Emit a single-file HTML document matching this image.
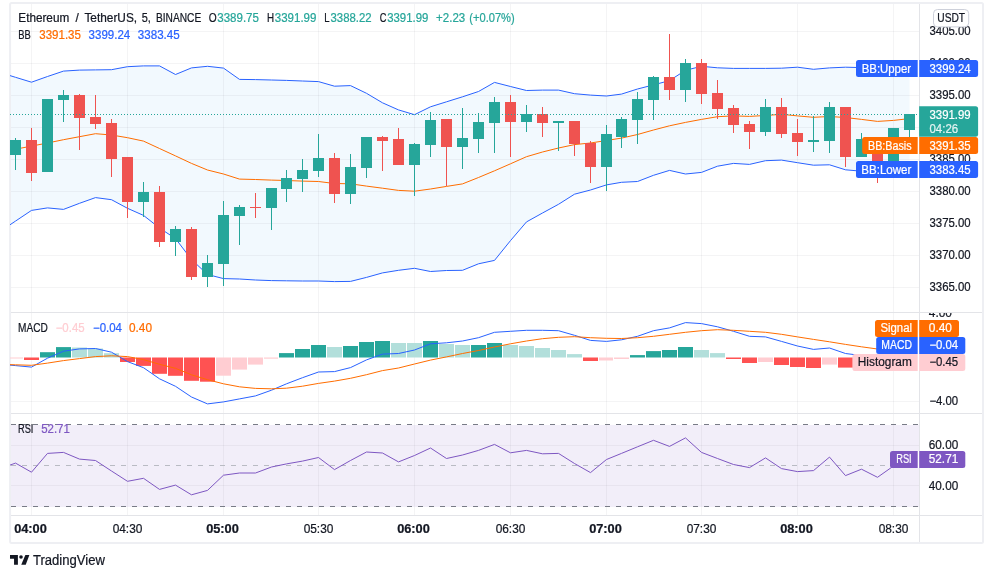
<!DOCTYPE html>
<html lang="en"><head><meta charset="utf-8"><title>ETHUSDT chart</title>
<style>html,body{margin:0;padding:0;background:#fff;width:993px;height:575px;overflow:hidden}svg{display:block;position:absolute;left:0;top:0}svg{will-change:transform}text{font-family:"Liberation Sans",sans-serif;white-space:pre;stroke-width:0.22px;stroke-linejoin:round}</style></head>
<body>
<svg width="993" height="575" viewBox="0 0 993 575" font-family="Liberation Sans, sans-serif" font-size="12" fill="#131722">
<defs><clipPath id="cp"><rect x="10" y="4" width="909" height="308"/></clipPath><clipPath id="cm"><rect x="10" y="313" width="909" height="100"/></clipPath><clipPath id="cr"><rect x="10" y="414" width="909" height="101"/></clipPath><clipPath id="cf"><rect x="11" y="4" width="908" height="308"/></clipPath><clipPath id="ca"><rect x="920" y="313" width="62" height="100"/></clipPath></defs>
<rect width="993" height="575" fill="#fff"/>
<rect x="10.1" y="3" width="972.9" height="540" rx="1.5" fill="none" stroke="#eeeff3" stroke-width="2"/>
<g clip-path="url(#cf)"><path d="M-0.5,72.4L15.5,77.3L31.5,82.2L47.5,76.5L63.5,71.1L79.5,70.1L95.5,69.9L111.5,69.7L127.5,66.7L143.5,65.9L159.5,65.9L175.5,74.5L191.5,67.9L207.5,66.3L223.5,68.1L239.5,79.4L255.5,79.6L271.5,80.0L286.5,80.4L302.5,81.0L318.5,81.6L334.5,86.2L350.5,85.6L366.5,93.3L382.5,102.8L398.5,109.9L414.5,114.7L430.5,106.8L446.5,101.8L462.5,96.8L478.5,91.5L494.5,82.4L510.5,86.5L526.5,90.5L542.5,90.1L558.5,90.1L574.5,93.7L590.5,95.1L606.5,96.0L621.5,94.1L637.5,89.0L653.5,84.9L669.5,80.6L685.5,70.3L701.5,66.3L717.5,67.8L733.5,68.4L749.5,68.4L765.5,68.4L781.5,68.2L797.5,67.2L813.5,69.3L829.5,67.9L845.5,67.2L861.5,67.6L877.5,67.8L893.5,68.0L909.5,68.1L909.5,169.1L893.5,170.3L877.5,171.5L861.5,171.2L845.5,169.8L829.5,164.8L813.5,165.2L797.5,162.7L781.5,160.1L765.5,160.7L749.5,164.4L733.5,163.4L717.5,166.2L701.5,172.4L685.5,174.0L669.5,170.4L653.5,175.3L637.5,181.5L621.5,182.3L606.5,184.9L590.5,190.0L574.5,194.2L558.5,204.3L542.5,213.0L526.5,221.9L510.5,240.6L494.5,260.4L478.5,263.8L462.5,270.3L446.5,270.5L430.5,271.5L414.5,268.3L398.5,270.3L382.5,272.9L366.5,277.4L350.5,281.4L334.5,281.6L318.5,281.0L302.5,281.0L286.5,280.8L271.5,280.6L255.5,280.0L239.5,279.0L223.5,278.6L207.5,274.5L191.5,259.5L175.5,238.6L159.5,228.0L143.5,215.4L127.5,208.3L111.5,199.7L95.5,197.6L79.5,203.3L63.5,209.4L47.5,207.9L31.5,210.4L15.5,221.1L-0.5,231.8Z" fill="#f2f9fe"/></g>
<rect x="11" y="425" width="908" height="82" fill="#f2eef9"/>
<g fill="#6a6d78" fill-opacity="0.075" shape-rendering="crispEdges"><rect x="31" y="4" width="1" height="512"/><rect x="127" y="4" width="1" height="512"/><rect x="223" y="4" width="1" height="512"/><rect x="318" y="4" width="1" height="512"/><rect x="414" y="4" width="1" height="512"/><rect x="510" y="4" width="1" height="512"/><rect x="606" y="4" width="1" height="512"/><rect x="701" y="4" width="1" height="512"/><rect x="797" y="4" width="1" height="512"/><rect x="893" y="4" width="1" height="512"/><rect x="11" y="31" width="908" height="1"/><rect x="11" y="63" width="908" height="1"/><rect x="11" y="95" width="908" height="1"/><rect x="11" y="127" width="908" height="1"/><rect x="11" y="159" width="908" height="1"/><rect x="11" y="191" width="908" height="1"/><rect x="11" y="223" width="908" height="1"/><rect x="11" y="255" width="908" height="1"/><rect x="11" y="287" width="908" height="1"/><rect x="11" y="401" width="908" height="1"/><rect x="11" y="445" width="908" height="1"/><rect x="11" y="485" width="908" height="1"/></g>
<g clip-path="url(#cp)" fill="none" stroke-width="1" stroke-linejoin="round">
<path d="M-0.5,152.3L15.5,149.2L31.5,146.1L47.5,143.0L63.5,139.7L79.5,136.7L95.5,133.7L111.5,135.0L127.5,137.7L143.5,141.1L159.5,148.5L175.5,155.9L191.5,163.4L207.5,170.0L223.5,174.0L239.5,179.1L255.5,179.5L271.5,180.1L286.5,180.5L302.5,181.1L318.5,181.5L334.5,183.5L350.5,183.8L366.5,186.1L382.5,188.2L398.5,190.4L414.5,191.2L430.5,189.0L446.5,186.4L462.5,183.9L478.5,177.5L494.5,170.8L510.5,163.8L526.5,156.7L542.5,152.0L558.5,148.0L574.5,144.6L590.5,143.0L606.5,140.5L621.5,138.1L637.5,134.5L653.5,130.0L669.5,125.8L685.5,122.4L701.5,119.4L717.5,116.7L733.5,115.9L749.5,116.4L765.5,115.5L781.5,114.3L797.5,115.9L813.5,117.3L829.5,116.5L845.5,117.5L861.5,119.4L877.5,121.4L893.5,120.4L909.5,118.6" stroke="#ff6d00"/>
<path d="M-0.5,72.4L15.5,77.3L31.5,82.2L47.5,76.5L63.5,71.1L79.5,70.1L95.5,69.9L111.5,69.7L127.5,66.7L143.5,65.9L159.5,65.9L175.5,74.5L191.5,67.9L207.5,66.3L223.5,68.1L239.5,79.4L255.5,79.6L271.5,80.0L286.5,80.4L302.5,81.0L318.5,81.6L334.5,86.2L350.5,85.6L366.5,93.3L382.5,102.8L398.5,109.9L414.5,114.7L430.5,106.8L446.5,101.8L462.5,96.8L478.5,91.5L494.5,82.4L510.5,86.5L526.5,90.5L542.5,90.1L558.5,90.1L574.5,93.7L590.5,95.1L606.5,96.0L621.5,94.1L637.5,89.0L653.5,84.9L669.5,80.6L685.5,70.3L701.5,66.3L717.5,67.8L733.5,68.4L749.5,68.4L765.5,68.4L781.5,68.2L797.5,67.2L813.5,69.3L829.5,67.9L845.5,67.2L861.5,67.6L877.5,67.8L893.5,68.0L909.5,68.1" stroke="#2962ff"/>
<path d="M-0.5,231.8L15.5,221.1L31.5,210.4L47.5,207.9L63.5,209.4L79.5,203.3L95.5,197.6L111.5,199.7L127.5,208.3L143.5,215.4L159.5,228.0L175.5,238.6L191.5,259.5L207.5,274.5L223.5,278.6L239.5,279.0L255.5,280.0L271.5,280.6L286.5,280.8L302.5,281.0L318.5,281.0L334.5,281.6L350.5,281.4L366.5,277.4L382.5,272.9L398.5,270.3L414.5,268.3L430.5,271.5L446.5,270.5L462.5,270.3L478.5,263.8L494.5,260.4L510.5,240.6L526.5,221.9L542.5,213.0L558.5,204.3L574.5,194.2L590.5,190.0L606.5,184.9L621.5,182.3L637.5,181.5L653.5,175.3L669.5,170.4L685.5,174.0L701.5,172.4L717.5,166.2L733.5,163.4L749.5,164.4L765.5,160.7L781.5,160.1L797.5,162.7L813.5,165.2L829.5,164.8L845.5,169.8L861.5,171.2L877.5,171.5L893.5,170.3L909.5,169.1" stroke="#2962ff"/>
</g>
<g clip-path="url(#cp)" shape-rendering="crispEdges"><g fill="#26a69a"><rect x="15" y="138" width="1" height="32"/><rect x="10" y="140" width="11" height="15"/></g><g fill="#ef5350"><rect x="31" y="128" width="1" height="53"/><rect x="26" y="140" width="11" height="33"/></g><g fill="#26a69a"><rect x="47" y="99" width="1" height="73"/><rect x="42" y="99" width="11" height="73"/></g><g fill="#26a69a"><rect x="63" y="90" width="1" height="32"/><rect x="58" y="95" width="11" height="5"/></g><g fill="#ef5350"><rect x="79" y="94" width="1" height="56"/><rect x="74" y="95" width="11" height="23"/></g><g fill="#ef5350"><rect x="95" y="95" width="1" height="34"/><rect x="90" y="117" width="11" height="7"/></g><g fill="#ef5350"><rect x="111" y="119" width="1" height="58"/><rect x="106" y="123" width="11" height="36"/></g><g fill="#ef5350"><rect x="127" y="157" width="1" height="61"/><rect x="122" y="157" width="11" height="45"/></g><g fill="#26a69a"><rect x="143" y="182" width="1" height="35"/><rect x="138" y="192" width="11" height="10"/></g><g fill="#ef5350"><rect x="159" y="186" width="1" height="61"/><rect x="154" y="192" width="11" height="50"/></g><g fill="#26a69a"><rect x="175" y="226" width="1" height="30"/><rect x="170" y="229" width="11" height="13"/></g><g fill="#ef5350"><rect x="191" y="227" width="1" height="53"/><rect x="186" y="229" width="11" height="48"/></g><g fill="#26a69a"><rect x="207" y="255" width="1" height="32"/><rect x="202" y="263" width="11" height="14"/></g><g fill="#26a69a"><rect x="223" y="201" width="1" height="85"/><rect x="218" y="215" width="11" height="49"/></g><g fill="#26a69a"><rect x="239" y="205" width="1" height="40"/><rect x="234" y="207" width="11" height="9"/></g><g fill="#ef5350"><rect x="255" y="193" width="1" height="25"/><rect x="250" y="207" width="11" height="1"/></g><g fill="#26a69a"><rect x="271" y="188" width="1" height="42"/><rect x="266" y="188" width="11" height="20"/></g><g fill="#26a69a"><rect x="286" y="170" width="1" height="32"/><rect x="281" y="178" width="11" height="11"/></g><g fill="#26a69a"><rect x="302" y="159" width="1" height="33"/><rect x="297" y="170" width="11" height="9"/></g><g fill="#26a69a"><rect x="318" y="134" width="1" height="43"/><rect x="313" y="158" width="11" height="13"/></g><g fill="#ef5350"><rect x="334" y="153" width="1" height="50"/><rect x="329" y="158" width="11" height="36"/></g><g fill="#26a69a"><rect x="350" y="154" width="1" height="50"/><rect x="345" y="167" width="11" height="27"/></g><g fill="#26a69a"><rect x="366" y="137" width="1" height="41"/><rect x="361" y="137" width="11" height="31"/></g><g fill="#ef5350"><rect x="382" y="136" width="1" height="35"/><rect x="377" y="137" width="11" height="4"/></g><g fill="#ef5350"><rect x="398" y="128" width="1" height="37"/><rect x="393" y="139" width="11" height="26"/></g><g fill="#26a69a"><rect x="414" y="143" width="1" height="53"/><rect x="409" y="144" width="11" height="21"/></g><g fill="#26a69a"><rect x="430" y="112" width="1" height="45"/><rect x="425" y="120" width="11" height="25"/></g><g fill="#ef5350"><rect x="446" y="119" width="1" height="67"/><rect x="441" y="119" width="11" height="28"/></g><g fill="#26a69a"><rect x="462" y="108" width="1" height="61"/><rect x="457" y="138" width="11" height="9"/></g><g fill="#26a69a"><rect x="478" y="113" width="1" height="40"/><rect x="473" y="122" width="11" height="17"/></g><g fill="#26a69a"><rect x="494" y="97" width="1" height="56"/><rect x="489" y="102" width="11" height="21"/></g><g fill="#ef5350"><rect x="510" y="95" width="1" height="62"/><rect x="505" y="102" width="11" height="20"/></g><g fill="#26a69a"><rect x="526" y="105" width="1" height="27"/><rect x="521" y="114" width="11" height="8"/></g><g fill="#ef5350"><rect x="542" y="107" width="1" height="30"/><rect x="537" y="114" width="11" height="9"/></g><g fill="#26a69a"><rect x="558" y="121" width="1" height="30"/><rect x="553" y="121" width="11" height="2"/></g><g fill="#ef5350"><rect x="574" y="121" width="1" height="35"/><rect x="569" y="121" width="11" height="23"/></g><g fill="#ef5350"><rect x="590" y="141" width="1" height="42"/><rect x="585" y="143" width="11" height="24"/></g><g fill="#26a69a"><rect x="606" y="125" width="1" height="66"/><rect x="601" y="134" width="11" height="33"/></g><g fill="#26a69a"><rect x="621" y="117" width="1" height="31"/><rect x="616" y="119" width="11" height="18"/></g><g fill="#26a69a"><rect x="637" y="92" width="1" height="52"/><rect x="632" y="99" width="11" height="21"/></g><g fill="#26a69a"><rect x="653" y="76" width="1" height="44"/><rect x="648" y="77" width="11" height="23"/></g><g fill="#ef5350"><rect x="669" y="34" width="1" height="66"/><rect x="664" y="77" width="11" height="13"/></g><g fill="#26a69a"><rect x="685" y="59" width="1" height="43"/><rect x="680" y="63" width="11" height="27"/></g><g fill="#ef5350"><rect x="701" y="59" width="1" height="45"/><rect x="696" y="63" width="11" height="31"/></g><g fill="#ef5350"><rect x="717" y="80" width="1" height="39"/><rect x="712" y="93" width="11" height="16"/></g><g fill="#ef5350"><rect x="733" y="105" width="1" height="28"/><rect x="728" y="108" width="11" height="17"/></g><g fill="#ef5350"><rect x="749" y="121" width="1" height="28"/><rect x="744" y="124" width="11" height="8"/></g><g fill="#26a69a"><rect x="765" y="99" width="1" height="37"/><rect x="760" y="107" width="11" height="25"/></g><g fill="#ef5350"><rect x="781" y="98" width="1" height="40"/><rect x="776" y="107" width="11" height="27"/></g><g fill="#ef5350"><rect x="797" y="119" width="1" height="37"/><rect x="792" y="133" width="11" height="9"/></g><g fill="#26a69a"><rect x="813" y="116" width="1" height="36"/><rect x="808" y="140" width="11" height="2"/></g><g fill="#26a69a"><rect x="829" y="102" width="1" height="51"/><rect x="824" y="107" width="11" height="34"/></g><g fill="#ef5350"><rect x="845" y="107" width="1" height="60"/><rect x="840" y="107" width="11" height="50"/></g><g fill="#26a69a"><rect x="861" y="133" width="1" height="24"/><rect x="856" y="139" width="11" height="18"/></g><g fill="#ef5350"><rect x="877" y="139" width="1" height="44"/><rect x="872" y="139" width="11" height="24"/></g><g fill="#26a69a"><rect x="893" y="128" width="1" height="37"/><rect x="888" y="128" width="11" height="35"/></g><g fill="#26a69a"><rect x="909" y="114" width="1" height="26"/><rect x="904" y="114" width="11" height="16"/></g></g>
<g fill="#26a69a" shape-rendering="crispEdges"><rect x="10" y="114" width="1" height="1"/><rect x="13" y="114" width="1" height="1"/><rect x="16" y="114" width="1" height="1"/><rect x="19" y="114" width="1" height="1"/><rect x="22" y="114" width="1" height="1"/><rect x="25" y="114" width="1" height="1"/><rect x="28" y="114" width="1" height="1"/><rect x="31" y="114" width="1" height="1"/><rect x="34" y="114" width="1" height="1"/><rect x="37" y="114" width="1" height="1"/><rect x="40" y="114" width="1" height="1"/><rect x="43" y="114" width="1" height="1"/><rect x="46" y="114" width="1" height="1"/><rect x="49" y="114" width="1" height="1"/><rect x="52" y="114" width="1" height="1"/><rect x="55" y="114" width="1" height="1"/><rect x="58" y="114" width="1" height="1"/><rect x="61" y="114" width="1" height="1"/><rect x="64" y="114" width="1" height="1"/><rect x="67" y="114" width="1" height="1"/><rect x="70" y="114" width="1" height="1"/><rect x="73" y="114" width="1" height="1"/><rect x="76" y="114" width="1" height="1"/><rect x="79" y="114" width="1" height="1"/><rect x="82" y="114" width="1" height="1"/><rect x="85" y="114" width="1" height="1"/><rect x="88" y="114" width="1" height="1"/><rect x="91" y="114" width="1" height="1"/><rect x="94" y="114" width="1" height="1"/><rect x="97" y="114" width="1" height="1"/><rect x="100" y="114" width="1" height="1"/><rect x="103" y="114" width="1" height="1"/><rect x="106" y="114" width="1" height="1"/><rect x="109" y="114" width="1" height="1"/><rect x="112" y="114" width="1" height="1"/><rect x="115" y="114" width="1" height="1"/><rect x="118" y="114" width="1" height="1"/><rect x="121" y="114" width="1" height="1"/><rect x="124" y="114" width="1" height="1"/><rect x="127" y="114" width="1" height="1"/><rect x="130" y="114" width="1" height="1"/><rect x="133" y="114" width="1" height="1"/><rect x="136" y="114" width="1" height="1"/><rect x="139" y="114" width="1" height="1"/><rect x="142" y="114" width="1" height="1"/><rect x="145" y="114" width="1" height="1"/><rect x="148" y="114" width="1" height="1"/><rect x="151" y="114" width="1" height="1"/><rect x="154" y="114" width="1" height="1"/><rect x="157" y="114" width="1" height="1"/><rect x="160" y="114" width="1" height="1"/><rect x="163" y="114" width="1" height="1"/><rect x="166" y="114" width="1" height="1"/><rect x="169" y="114" width="1" height="1"/><rect x="172" y="114" width="1" height="1"/><rect x="175" y="114" width="1" height="1"/><rect x="178" y="114" width="1" height="1"/><rect x="181" y="114" width="1" height="1"/><rect x="184" y="114" width="1" height="1"/><rect x="187" y="114" width="1" height="1"/><rect x="190" y="114" width="1" height="1"/><rect x="193" y="114" width="1" height="1"/><rect x="196" y="114" width="1" height="1"/><rect x="199" y="114" width="1" height="1"/><rect x="202" y="114" width="1" height="1"/><rect x="205" y="114" width="1" height="1"/><rect x="208" y="114" width="1" height="1"/><rect x="211" y="114" width="1" height="1"/><rect x="214" y="114" width="1" height="1"/><rect x="217" y="114" width="1" height="1"/><rect x="220" y="114" width="1" height="1"/><rect x="223" y="114" width="1" height="1"/><rect x="226" y="114" width="1" height="1"/><rect x="229" y="114" width="1" height="1"/><rect x="232" y="114" width="1" height="1"/><rect x="235" y="114" width="1" height="1"/><rect x="238" y="114" width="1" height="1"/><rect x="241" y="114" width="1" height="1"/><rect x="244" y="114" width="1" height="1"/><rect x="247" y="114" width="1" height="1"/><rect x="250" y="114" width="1" height="1"/><rect x="253" y="114" width="1" height="1"/><rect x="256" y="114" width="1" height="1"/><rect x="259" y="114" width="1" height="1"/><rect x="262" y="114" width="1" height="1"/><rect x="265" y="114" width="1" height="1"/><rect x="268" y="114" width="1" height="1"/><rect x="271" y="114" width="1" height="1"/><rect x="274" y="114" width="1" height="1"/><rect x="277" y="114" width="1" height="1"/><rect x="280" y="114" width="1" height="1"/><rect x="283" y="114" width="1" height="1"/><rect x="286" y="114" width="1" height="1"/><rect x="289" y="114" width="1" height="1"/><rect x="292" y="114" width="1" height="1"/><rect x="295" y="114" width="1" height="1"/><rect x="298" y="114" width="1" height="1"/><rect x="301" y="114" width="1" height="1"/><rect x="304" y="114" width="1" height="1"/><rect x="307" y="114" width="1" height="1"/><rect x="310" y="114" width="1" height="1"/><rect x="313" y="114" width="1" height="1"/><rect x="316" y="114" width="1" height="1"/><rect x="319" y="114" width="1" height="1"/><rect x="322" y="114" width="1" height="1"/><rect x="325" y="114" width="1" height="1"/><rect x="328" y="114" width="1" height="1"/><rect x="331" y="114" width="1" height="1"/><rect x="334" y="114" width="1" height="1"/><rect x="337" y="114" width="1" height="1"/><rect x="340" y="114" width="1" height="1"/><rect x="343" y="114" width="1" height="1"/><rect x="346" y="114" width="1" height="1"/><rect x="349" y="114" width="1" height="1"/><rect x="352" y="114" width="1" height="1"/><rect x="355" y="114" width="1" height="1"/><rect x="358" y="114" width="1" height="1"/><rect x="361" y="114" width="1" height="1"/><rect x="364" y="114" width="1" height="1"/><rect x="367" y="114" width="1" height="1"/><rect x="370" y="114" width="1" height="1"/><rect x="373" y="114" width="1" height="1"/><rect x="376" y="114" width="1" height="1"/><rect x="379" y="114" width="1" height="1"/><rect x="382" y="114" width="1" height="1"/><rect x="385" y="114" width="1" height="1"/><rect x="388" y="114" width="1" height="1"/><rect x="391" y="114" width="1" height="1"/><rect x="394" y="114" width="1" height="1"/><rect x="397" y="114" width="1" height="1"/><rect x="400" y="114" width="1" height="1"/><rect x="403" y="114" width="1" height="1"/><rect x="406" y="114" width="1" height="1"/><rect x="409" y="114" width="1" height="1"/><rect x="412" y="114" width="1" height="1"/><rect x="415" y="114" width="1" height="1"/><rect x="418" y="114" width="1" height="1"/><rect x="421" y="114" width="1" height="1"/><rect x="424" y="114" width="1" height="1"/><rect x="427" y="114" width="1" height="1"/><rect x="430" y="114" width="1" height="1"/><rect x="433" y="114" width="1" height="1"/><rect x="436" y="114" width="1" height="1"/><rect x="439" y="114" width="1" height="1"/><rect x="442" y="114" width="1" height="1"/><rect x="445" y="114" width="1" height="1"/><rect x="448" y="114" width="1" height="1"/><rect x="451" y="114" width="1" height="1"/><rect x="454" y="114" width="1" height="1"/><rect x="457" y="114" width="1" height="1"/><rect x="460" y="114" width="1" height="1"/><rect x="463" y="114" width="1" height="1"/><rect x="466" y="114" width="1" height="1"/><rect x="469" y="114" width="1" height="1"/><rect x="472" y="114" width="1" height="1"/><rect x="475" y="114" width="1" height="1"/><rect x="478" y="114" width="1" height="1"/><rect x="481" y="114" width="1" height="1"/><rect x="484" y="114" width="1" height="1"/><rect x="487" y="114" width="1" height="1"/><rect x="490" y="114" width="1" height="1"/><rect x="493" y="114" width="1" height="1"/><rect x="496" y="114" width="1" height="1"/><rect x="499" y="114" width="1" height="1"/><rect x="502" y="114" width="1" height="1"/><rect x="505" y="114" width="1" height="1"/><rect x="508" y="114" width="1" height="1"/><rect x="511" y="114" width="1" height="1"/><rect x="514" y="114" width="1" height="1"/><rect x="517" y="114" width="1" height="1"/><rect x="520" y="114" width="1" height="1"/><rect x="523" y="114" width="1" height="1"/><rect x="526" y="114" width="1" height="1"/><rect x="529" y="114" width="1" height="1"/><rect x="532" y="114" width="1" height="1"/><rect x="535" y="114" width="1" height="1"/><rect x="538" y="114" width="1" height="1"/><rect x="541" y="114" width="1" height="1"/><rect x="544" y="114" width="1" height="1"/><rect x="547" y="114" width="1" height="1"/><rect x="550" y="114" width="1" height="1"/><rect x="553" y="114" width="1" height="1"/><rect x="556" y="114" width="1" height="1"/><rect x="559" y="114" width="1" height="1"/><rect x="562" y="114" width="1" height="1"/><rect x="565" y="114" width="1" height="1"/><rect x="568" y="114" width="1" height="1"/><rect x="571" y="114" width="1" height="1"/><rect x="574" y="114" width="1" height="1"/><rect x="577" y="114" width="1" height="1"/><rect x="580" y="114" width="1" height="1"/><rect x="583" y="114" width="1" height="1"/><rect x="586" y="114" width="1" height="1"/><rect x="589" y="114" width="1" height="1"/><rect x="592" y="114" width="1" height="1"/><rect x="595" y="114" width="1" height="1"/><rect x="598" y="114" width="1" height="1"/><rect x="601" y="114" width="1" height="1"/><rect x="604" y="114" width="1" height="1"/><rect x="607" y="114" width="1" height="1"/><rect x="610" y="114" width="1" height="1"/><rect x="613" y="114" width="1" height="1"/><rect x="616" y="114" width="1" height="1"/><rect x="619" y="114" width="1" height="1"/><rect x="622" y="114" width="1" height="1"/><rect x="625" y="114" width="1" height="1"/><rect x="628" y="114" width="1" height="1"/><rect x="631" y="114" width="1" height="1"/><rect x="634" y="114" width="1" height="1"/><rect x="637" y="114" width="1" height="1"/><rect x="640" y="114" width="1" height="1"/><rect x="643" y="114" width="1" height="1"/><rect x="646" y="114" width="1" height="1"/><rect x="649" y="114" width="1" height="1"/><rect x="652" y="114" width="1" height="1"/><rect x="655" y="114" width="1" height="1"/><rect x="658" y="114" width="1" height="1"/><rect x="661" y="114" width="1" height="1"/><rect x="664" y="114" width="1" height="1"/><rect x="667" y="114" width="1" height="1"/><rect x="670" y="114" width="1" height="1"/><rect x="673" y="114" width="1" height="1"/><rect x="676" y="114" width="1" height="1"/><rect x="679" y="114" width="1" height="1"/><rect x="682" y="114" width="1" height="1"/><rect x="685" y="114" width="1" height="1"/><rect x="688" y="114" width="1" height="1"/><rect x="691" y="114" width="1" height="1"/><rect x="694" y="114" width="1" height="1"/><rect x="697" y="114" width="1" height="1"/><rect x="700" y="114" width="1" height="1"/><rect x="703" y="114" width="1" height="1"/><rect x="706" y="114" width="1" height="1"/><rect x="709" y="114" width="1" height="1"/><rect x="712" y="114" width="1" height="1"/><rect x="715" y="114" width="1" height="1"/><rect x="718" y="114" width="1" height="1"/><rect x="721" y="114" width="1" height="1"/><rect x="724" y="114" width="1" height="1"/><rect x="727" y="114" width="1" height="1"/><rect x="730" y="114" width="1" height="1"/><rect x="733" y="114" width="1" height="1"/><rect x="736" y="114" width="1" height="1"/><rect x="739" y="114" width="1" height="1"/><rect x="742" y="114" width="1" height="1"/><rect x="745" y="114" width="1" height="1"/><rect x="748" y="114" width="1" height="1"/><rect x="751" y="114" width="1" height="1"/><rect x="754" y="114" width="1" height="1"/><rect x="757" y="114" width="1" height="1"/><rect x="760" y="114" width="1" height="1"/><rect x="763" y="114" width="1" height="1"/><rect x="766" y="114" width="1" height="1"/><rect x="769" y="114" width="1" height="1"/><rect x="772" y="114" width="1" height="1"/><rect x="775" y="114" width="1" height="1"/><rect x="778" y="114" width="1" height="1"/><rect x="781" y="114" width="1" height="1"/><rect x="784" y="114" width="1" height="1"/><rect x="787" y="114" width="1" height="1"/><rect x="790" y="114" width="1" height="1"/><rect x="793" y="114" width="1" height="1"/><rect x="796" y="114" width="1" height="1"/><rect x="799" y="114" width="1" height="1"/><rect x="802" y="114" width="1" height="1"/><rect x="805" y="114" width="1" height="1"/><rect x="808" y="114" width="1" height="1"/><rect x="811" y="114" width="1" height="1"/><rect x="814" y="114" width="1" height="1"/><rect x="817" y="114" width="1" height="1"/><rect x="820" y="114" width="1" height="1"/><rect x="823" y="114" width="1" height="1"/><rect x="826" y="114" width="1" height="1"/><rect x="829" y="114" width="1" height="1"/><rect x="832" y="114" width="1" height="1"/><rect x="835" y="114" width="1" height="1"/><rect x="838" y="114" width="1" height="1"/><rect x="841" y="114" width="1" height="1"/><rect x="844" y="114" width="1" height="1"/><rect x="847" y="114" width="1" height="1"/><rect x="850" y="114" width="1" height="1"/><rect x="853" y="114" width="1" height="1"/><rect x="856" y="114" width="1" height="1"/><rect x="859" y="114" width="1" height="1"/><rect x="862" y="114" width="1" height="1"/><rect x="865" y="114" width="1" height="1"/><rect x="868" y="114" width="1" height="1"/><rect x="871" y="114" width="1" height="1"/><rect x="874" y="114" width="1" height="1"/><rect x="877" y="114" width="1" height="1"/><rect x="880" y="114" width="1" height="1"/><rect x="883" y="114" width="1" height="1"/><rect x="886" y="114" width="1" height="1"/><rect x="889" y="114" width="1" height="1"/><rect x="892" y="114" width="1" height="1"/><rect x="895" y="114" width="1" height="1"/><rect x="898" y="114" width="1" height="1"/><rect x="901" y="114" width="1" height="1"/><rect x="904" y="114" width="1" height="1"/><rect x="907" y="114" width="1" height="1"/><rect x="910" y="114" width="1" height="1"/><rect x="913" y="114" width="1" height="1"/><rect x="916" y="114" width="1" height="1"/></g>
<g clip-path="url(#cm)"><rect x="8" y="357.5" width="15" height="1.0" fill="#ffcdd2"/><rect x="24" y="357.5" width="15" height="2.5" fill="#ff5252"/><rect x="40" y="352.2" width="15" height="5.3" fill="#26a69a"/><rect x="56" y="347.1" width="15" height="10.4" fill="#26a69a"/><rect x="72" y="347.5" width="15" height="10.0" fill="#b2dfdb"/><rect x="88" y="348.5" width="15" height="9.0" fill="#b2dfdb"/><rect x="104" y="353.2" width="15" height="4.3" fill="#b2dfdb"/><rect x="120" y="357.5" width="15" height="4.5" fill="#ff5252"/><rect x="136" y="357.5" width="15" height="8.4" fill="#ff5252"/><rect x="152" y="357.5" width="15" height="16.3" fill="#ff5252"/><rect x="168" y="357.5" width="15" height="18.3" fill="#ff5252"/><rect x="184" y="357.5" width="15" height="23.3" fill="#ff5252"/><rect x="200" y="357.5" width="15" height="24.2" fill="#ff5252"/><rect x="216" y="357.5" width="15" height="18.2" fill="#ffcdd2"/><rect x="232" y="357.5" width="15" height="12.1" fill="#ffcdd2"/><rect x="248" y="357.5" width="15" height="7.1" fill="#ffcdd2"/><rect x="264" y="357.5" width="14" height="1.2" fill="#ffcdd2"/><rect x="279" y="353.1" width="15" height="4.4" fill="#26a69a"/><rect x="295" y="349.0" width="15" height="8.5" fill="#26a69a"/><rect x="311" y="345.0" width="15" height="12.5" fill="#26a69a"/><rect x="327" y="347.0" width="15" height="10.5" fill="#b2dfdb"/><rect x="343" y="346.0" width="15" height="11.5" fill="#26a69a"/><rect x="359" y="342.0" width="15" height="15.5" fill="#26a69a"/><rect x="375" y="341.0" width="15" height="16.5" fill="#26a69a"/><rect x="391" y="343.0" width="15" height="14.5" fill="#b2dfdb"/><rect x="407" y="343.0" width="15" height="14.5" fill="#b2dfdb"/><rect x="423" y="341.0" width="15" height="16.5" fill="#26a69a"/><rect x="439" y="344.0" width="15" height="13.5" fill="#b2dfdb"/><rect x="455" y="345.0" width="15" height="12.5" fill="#b2dfdb"/><rect x="471" y="345.0" width="15" height="12.5" fill="#26a69a"/><rect x="487" y="343.0" width="15" height="14.5" fill="#26a69a"/><rect x="503" y="345.0" width="15" height="12.5" fill="#b2dfdb"/><rect x="519" y="346.0" width="15" height="11.5" fill="#b2dfdb"/><rect x="535" y="348.0" width="15" height="9.5" fill="#b2dfdb"/><rect x="551" y="350.0" width="15" height="7.5" fill="#b2dfdb"/><rect x="567" y="354.1" width="15" height="3.4" fill="#b2dfdb"/><rect x="583" y="357.5" width="15" height="3.5" fill="#ff5252"/><rect x="599" y="357.5" width="14" height="3.0" fill="#ffcdd2"/><rect x="614" y="357.5" width="15" height="1.5" fill="#ffcdd2"/><rect x="630" y="355.1" width="15" height="2.4" fill="#26a69a"/><rect x="646" y="351.1" width="15" height="6.4" fill="#26a69a"/><rect x="662" y="350.0" width="15" height="7.5" fill="#26a69a"/><rect x="678" y="347.0" width="15" height="10.5" fill="#26a69a"/><rect x="694" y="350.0" width="15" height="7.5" fill="#b2dfdb"/><rect x="710" y="353.1" width="15" height="4.4" fill="#b2dfdb"/><rect x="726" y="357.5" width="15" height="1.5" fill="#ff5252"/><rect x="742" y="357.5" width="15" height="5.5" fill="#ff5252"/><rect x="758" y="357.5" width="15" height="4.5" fill="#ffcdd2"/><rect x="774" y="357.5" width="15" height="7.5" fill="#ff5252"/><rect x="790" y="357.5" width="15" height="9.5" fill="#ff5252"/><rect x="806" y="357.5" width="15" height="10.5" fill="#ff5252"/><rect x="822" y="357.5" width="15" height="7.1" fill="#ffcdd2"/><rect x="838" y="357.5" width="15" height="10.1" fill="#ff5252"/><rect x="854" y="357.5" width="15" height="8.5" fill="#ffcdd2"/><rect x="870" y="357.5" width="15" height="10.5" fill="#ff5252"/><rect x="886" y="357.5" width="15" height="7.5" fill="#ffcdd2"/><rect x="902" y="357.5" width="15" height="5.0" fill="#ffcdd2"/>
<g fill="none" stroke-width="1" stroke-linejoin="round">
<path d="M-0.5,364.1L15.5,365.6L31.5,367.1L47.5,358.2L63.5,351.2L79.5,348.9L95.5,348.5L111.5,352.2L127.5,361.6L143.5,367.7L159.5,378.8L175.5,386.3L191.5,397.0L207.5,403.9L223.5,401.9L239.5,398.9L255.5,395.9L271.5,390.2L286.5,383.8L302.5,377.7L318.5,372.0L334.5,371.6L350.5,367.6L366.5,359.9L382.5,354.1L398.5,353.5L414.5,350.0L430.5,343.8L446.5,342.8L462.5,341.0L478.5,337.7L494.5,332.3L510.5,331.3L526.5,330.3L542.5,330.3L558.5,330.7L574.5,335.3L590.5,340.4L606.5,341.4L621.5,339.8L637.5,336.3L653.5,330.7L669.5,327.9L685.5,322.6L701.5,323.6L717.5,326.8L733.5,331.3L749.5,336.3L765.5,336.9L781.5,341.4L797.5,346.0L813.5,349.4L829.5,348.0L845.5,353.5L861.5,355.5L877.5,358.0L893.5,358.5L909.5,357.9" stroke="#2962ff"/>
<path d="M-0.5,364.3L15.5,364.8L31.5,365.3L47.5,363.1L63.5,360.6L79.5,358.6L95.5,356.6L111.5,355.8L127.5,356.6L143.5,359.6L159.5,364.3L175.5,368.3L191.5,374.8L207.5,379.7L223.5,383.8L239.5,386.8L255.5,388.4L271.5,388.8L286.5,388.2L302.5,386.2L318.5,383.4L334.5,381.1L350.5,378.3L366.5,374.7L382.5,370.6L398.5,368.0L414.5,364.0L430.5,360.1L446.5,356.9L462.5,353.5L478.5,350.5L494.5,347.0L510.5,343.8L526.5,341.0L542.5,338.7L558.5,337.3L574.5,336.7L590.5,337.7L606.5,338.3L621.5,338.5L637.5,337.7L653.5,336.3L669.5,334.3L685.5,332.3L701.5,330.7L717.5,329.7L733.5,330.3L749.5,331.3L765.5,332.3L781.5,334.3L797.5,336.9L813.5,339.4L829.5,341.8L845.5,344.4L861.5,346.8L877.5,349.0L893.5,351.0L909.5,353.1" stroke="#ff6d00"/>
</g></g>
<g shape-rendering="crispEdges" fill="#787b86">
<g fill="#787b86"><rect x="11" y="424" width="5" height="1"/><rect x="22" y="424" width="5" height="1"/><rect x="33" y="424" width="5" height="1"/><rect x="44" y="424" width="5" height="1"/><rect x="55" y="424" width="5" height="1"/><rect x="66" y="424" width="5" height="1"/><rect x="77" y="424" width="5" height="1"/><rect x="88" y="424" width="5" height="1"/><rect x="99" y="424" width="5" height="1"/><rect x="110" y="424" width="5" height="1"/><rect x="121" y="424" width="5" height="1"/><rect x="132" y="424" width="5" height="1"/><rect x="143" y="424" width="5" height="1"/><rect x="154" y="424" width="5" height="1"/><rect x="165" y="424" width="5" height="1"/><rect x="176" y="424" width="5" height="1"/><rect x="187" y="424" width="5" height="1"/><rect x="198" y="424" width="5" height="1"/><rect x="209" y="424" width="5" height="1"/><rect x="220" y="424" width="5" height="1"/><rect x="231" y="424" width="5" height="1"/><rect x="242" y="424" width="5" height="1"/><rect x="253" y="424" width="5" height="1"/><rect x="264" y="424" width="5" height="1"/><rect x="275" y="424" width="5" height="1"/><rect x="286" y="424" width="5" height="1"/><rect x="297" y="424" width="5" height="1"/><rect x="308" y="424" width="5" height="1"/><rect x="319" y="424" width="5" height="1"/><rect x="330" y="424" width="5" height="1"/><rect x="341" y="424" width="5" height="1"/><rect x="352" y="424" width="5" height="1"/><rect x="363" y="424" width="5" height="1"/><rect x="374" y="424" width="5" height="1"/><rect x="385" y="424" width="5" height="1"/><rect x="396" y="424" width="5" height="1"/><rect x="407" y="424" width="5" height="1"/><rect x="418" y="424" width="5" height="1"/><rect x="429" y="424" width="5" height="1"/><rect x="440" y="424" width="5" height="1"/><rect x="451" y="424" width="5" height="1"/><rect x="462" y="424" width="5" height="1"/><rect x="473" y="424" width="5" height="1"/><rect x="484" y="424" width="5" height="1"/><rect x="495" y="424" width="5" height="1"/><rect x="506" y="424" width="5" height="1"/><rect x="517" y="424" width="5" height="1"/><rect x="528" y="424" width="5" height="1"/><rect x="539" y="424" width="5" height="1"/><rect x="550" y="424" width="5" height="1"/><rect x="561" y="424" width="5" height="1"/><rect x="572" y="424" width="5" height="1"/><rect x="583" y="424" width="5" height="1"/><rect x="594" y="424" width="5" height="1"/><rect x="605" y="424" width="5" height="1"/><rect x="616" y="424" width="5" height="1"/><rect x="627" y="424" width="5" height="1"/><rect x="638" y="424" width="5" height="1"/><rect x="649" y="424" width="5" height="1"/><rect x="660" y="424" width="5" height="1"/><rect x="671" y="424" width="5" height="1"/><rect x="682" y="424" width="5" height="1"/><rect x="693" y="424" width="5" height="1"/><rect x="704" y="424" width="5" height="1"/><rect x="715" y="424" width="5" height="1"/><rect x="726" y="424" width="5" height="1"/><rect x="737" y="424" width="5" height="1"/><rect x="748" y="424" width="5" height="1"/><rect x="759" y="424" width="5" height="1"/><rect x="770" y="424" width="5" height="1"/><rect x="781" y="424" width="5" height="1"/><rect x="792" y="424" width="5" height="1"/><rect x="803" y="424" width="5" height="1"/><rect x="814" y="424" width="5" height="1"/><rect x="825" y="424" width="5" height="1"/><rect x="836" y="424" width="5" height="1"/><rect x="847" y="424" width="5" height="1"/><rect x="858" y="424" width="5" height="1"/><rect x="869" y="424" width="5" height="1"/><rect x="880" y="424" width="5" height="1"/><rect x="891" y="424" width="5" height="1"/><rect x="902" y="424" width="5" height="1"/><rect x="913" y="424" width="5" height="1"/></g><g fill="#b9bbc3"><rect x="11" y="465" width="5" height="1"/><rect x="22" y="465" width="5" height="1"/><rect x="33" y="465" width="5" height="1"/><rect x="44" y="465" width="5" height="1"/><rect x="55" y="465" width="5" height="1"/><rect x="66" y="465" width="5" height="1"/><rect x="77" y="465" width="5" height="1"/><rect x="88" y="465" width="5" height="1"/><rect x="99" y="465" width="5" height="1"/><rect x="110" y="465" width="5" height="1"/><rect x="121" y="465" width="5" height="1"/><rect x="132" y="465" width="5" height="1"/><rect x="143" y="465" width="5" height="1"/><rect x="154" y="465" width="5" height="1"/><rect x="165" y="465" width="5" height="1"/><rect x="176" y="465" width="5" height="1"/><rect x="187" y="465" width="5" height="1"/><rect x="198" y="465" width="5" height="1"/><rect x="209" y="465" width="5" height="1"/><rect x="220" y="465" width="5" height="1"/><rect x="231" y="465" width="5" height="1"/><rect x="242" y="465" width="5" height="1"/><rect x="253" y="465" width="5" height="1"/><rect x="264" y="465" width="5" height="1"/><rect x="275" y="465" width="5" height="1"/><rect x="286" y="465" width="5" height="1"/><rect x="297" y="465" width="5" height="1"/><rect x="308" y="465" width="5" height="1"/><rect x="319" y="465" width="5" height="1"/><rect x="330" y="465" width="5" height="1"/><rect x="341" y="465" width="5" height="1"/><rect x="352" y="465" width="5" height="1"/><rect x="363" y="465" width="5" height="1"/><rect x="374" y="465" width="5" height="1"/><rect x="385" y="465" width="5" height="1"/><rect x="396" y="465" width="5" height="1"/><rect x="407" y="465" width="5" height="1"/><rect x="418" y="465" width="5" height="1"/><rect x="429" y="465" width="5" height="1"/><rect x="440" y="465" width="5" height="1"/><rect x="451" y="465" width="5" height="1"/><rect x="462" y="465" width="5" height="1"/><rect x="473" y="465" width="5" height="1"/><rect x="484" y="465" width="5" height="1"/><rect x="495" y="465" width="5" height="1"/><rect x="506" y="465" width="5" height="1"/><rect x="517" y="465" width="5" height="1"/><rect x="528" y="465" width="5" height="1"/><rect x="539" y="465" width="5" height="1"/><rect x="550" y="465" width="5" height="1"/><rect x="561" y="465" width="5" height="1"/><rect x="572" y="465" width="5" height="1"/><rect x="583" y="465" width="5" height="1"/><rect x="594" y="465" width="5" height="1"/><rect x="605" y="465" width="5" height="1"/><rect x="616" y="465" width="5" height="1"/><rect x="627" y="465" width="5" height="1"/><rect x="638" y="465" width="5" height="1"/><rect x="649" y="465" width="5" height="1"/><rect x="660" y="465" width="5" height="1"/><rect x="671" y="465" width="5" height="1"/><rect x="682" y="465" width="5" height="1"/><rect x="693" y="465" width="5" height="1"/><rect x="704" y="465" width="5" height="1"/><rect x="715" y="465" width="5" height="1"/><rect x="726" y="465" width="5" height="1"/><rect x="737" y="465" width="5" height="1"/><rect x="748" y="465" width="5" height="1"/><rect x="759" y="465" width="5" height="1"/><rect x="770" y="465" width="5" height="1"/><rect x="781" y="465" width="5" height="1"/><rect x="792" y="465" width="5" height="1"/><rect x="803" y="465" width="5" height="1"/><rect x="814" y="465" width="5" height="1"/><rect x="825" y="465" width="5" height="1"/><rect x="836" y="465" width="5" height="1"/><rect x="847" y="465" width="5" height="1"/><rect x="858" y="465" width="5" height="1"/><rect x="869" y="465" width="5" height="1"/><rect x="880" y="465" width="5" height="1"/><rect x="891" y="465" width="5" height="1"/><rect x="902" y="465" width="5" height="1"/><rect x="913" y="465" width="5" height="1"/></g><g fill="#787b86"><rect x="11" y="506" width="5" height="1"/><rect x="22" y="506" width="5" height="1"/><rect x="33" y="506" width="5" height="1"/><rect x="44" y="506" width="5" height="1"/><rect x="55" y="506" width="5" height="1"/><rect x="66" y="506" width="5" height="1"/><rect x="77" y="506" width="5" height="1"/><rect x="88" y="506" width="5" height="1"/><rect x="99" y="506" width="5" height="1"/><rect x="110" y="506" width="5" height="1"/><rect x="121" y="506" width="5" height="1"/><rect x="132" y="506" width="5" height="1"/><rect x="143" y="506" width="5" height="1"/><rect x="154" y="506" width="5" height="1"/><rect x="165" y="506" width="5" height="1"/><rect x="176" y="506" width="5" height="1"/><rect x="187" y="506" width="5" height="1"/><rect x="198" y="506" width="5" height="1"/><rect x="209" y="506" width="5" height="1"/><rect x="220" y="506" width="5" height="1"/><rect x="231" y="506" width="5" height="1"/><rect x="242" y="506" width="5" height="1"/><rect x="253" y="506" width="5" height="1"/><rect x="264" y="506" width="5" height="1"/><rect x="275" y="506" width="5" height="1"/><rect x="286" y="506" width="5" height="1"/><rect x="297" y="506" width="5" height="1"/><rect x="308" y="506" width="5" height="1"/><rect x="319" y="506" width="5" height="1"/><rect x="330" y="506" width="5" height="1"/><rect x="341" y="506" width="5" height="1"/><rect x="352" y="506" width="5" height="1"/><rect x="363" y="506" width="5" height="1"/><rect x="374" y="506" width="5" height="1"/><rect x="385" y="506" width="5" height="1"/><rect x="396" y="506" width="5" height="1"/><rect x="407" y="506" width="5" height="1"/><rect x="418" y="506" width="5" height="1"/><rect x="429" y="506" width="5" height="1"/><rect x="440" y="506" width="5" height="1"/><rect x="451" y="506" width="5" height="1"/><rect x="462" y="506" width="5" height="1"/><rect x="473" y="506" width="5" height="1"/><rect x="484" y="506" width="5" height="1"/><rect x="495" y="506" width="5" height="1"/><rect x="506" y="506" width="5" height="1"/><rect x="517" y="506" width="5" height="1"/><rect x="528" y="506" width="5" height="1"/><rect x="539" y="506" width="5" height="1"/><rect x="550" y="506" width="5" height="1"/><rect x="561" y="506" width="5" height="1"/><rect x="572" y="506" width="5" height="1"/><rect x="583" y="506" width="5" height="1"/><rect x="594" y="506" width="5" height="1"/><rect x="605" y="506" width="5" height="1"/><rect x="616" y="506" width="5" height="1"/><rect x="627" y="506" width="5" height="1"/><rect x="638" y="506" width="5" height="1"/><rect x="649" y="506" width="5" height="1"/><rect x="660" y="506" width="5" height="1"/><rect x="671" y="506" width="5" height="1"/><rect x="682" y="506" width="5" height="1"/><rect x="693" y="506" width="5" height="1"/><rect x="704" y="506" width="5" height="1"/><rect x="715" y="506" width="5" height="1"/><rect x="726" y="506" width="5" height="1"/><rect x="737" y="506" width="5" height="1"/><rect x="748" y="506" width="5" height="1"/><rect x="759" y="506" width="5" height="1"/><rect x="770" y="506" width="5" height="1"/><rect x="781" y="506" width="5" height="1"/><rect x="792" y="506" width="5" height="1"/><rect x="803" y="506" width="5" height="1"/><rect x="814" y="506" width="5" height="1"/><rect x="825" y="506" width="5" height="1"/><rect x="836" y="506" width="5" height="1"/><rect x="847" y="506" width="5" height="1"/><rect x="858" y="506" width="5" height="1"/><rect x="869" y="506" width="5" height="1"/><rect x="880" y="506" width="5" height="1"/><rect x="891" y="506" width="5" height="1"/><rect x="902" y="506" width="5" height="1"/><rect x="913" y="506" width="5" height="1"/></g>
</g>
<g clip-path="url(#cr)" fill="none" stroke-width="1" stroke-linejoin="round">
<path d="M-0.5,468.9L15.5,463.1L31.5,472.2L47.5,453.4L63.5,452.4L79.5,459.1L95.5,460.5L111.5,471.0L127.5,481.3L143.5,478.3L159.5,489.4L175.5,485.1L191.5,494.8L207.5,490.4L223.5,475.2L239.5,473.0L255.5,473.0L271.5,467.0L286.5,463.9L302.5,461.1L318.5,457.5L334.5,469.6L350.5,460.5L366.5,452.0L382.5,453.0L398.5,461.9L414.5,455.5L430.5,448.0L446.5,458.5L462.5,455.0L478.5,450.4L494.5,444.4L510.5,452.8L526.5,450.4L542.5,453.8L558.5,453.4L574.5,463.5L590.5,472.6L606.5,459.5L621.5,453.4L637.5,446.8L653.5,440.3L669.5,446.4L685.5,437.9L701.5,452.4L717.5,458.5L733.5,464.5L749.5,467.6L765.5,457.9L781.5,468.6L797.5,471.6L813.5,470.6L829.5,457.1L845.5,475.6L861.5,469.2L877.5,477.3L893.5,466.0L909.5,460.0" stroke="#7e57c2" stroke-width="1"/>
</g>
<g fill="#e3e4e8" shape-rendering="crispEdges">
<rect x="919" y="4" width="1" height="538"/>
<rect x="11" y="312" width="971" height="1"/>
<rect x="11" y="413" width="971" height="1"/>
<rect x="11" y="515" width="971" height="1"/>
</g>
<text x="929.50" y="35.10" textLength="41.20" lengthAdjust="spacingAndGlyphs" fill="#131722" stroke="#131722">3405.00</text>
<text x="929.50" y="67.10" textLength="41.20" lengthAdjust="spacingAndGlyphs" fill="#131722" stroke="#131722">3400.00</text>
<text x="929.50" y="99.10" textLength="41.20" lengthAdjust="spacingAndGlyphs" fill="#131722" stroke="#131722">3395.00</text>
<text x="929.50" y="131.10" textLength="41.20" lengthAdjust="spacingAndGlyphs" fill="#131722" stroke="#131722">3390.00</text>
<text x="929.50" y="163.10" textLength="41.20" lengthAdjust="spacingAndGlyphs" fill="#131722" stroke="#131722">3385.00</text>
<text x="929.50" y="195.10" textLength="41.20" lengthAdjust="spacingAndGlyphs" fill="#131722" stroke="#131722">3380.00</text>
<text x="929.50" y="227.10" textLength="41.20" lengthAdjust="spacingAndGlyphs" fill="#131722" stroke="#131722">3375.00</text>
<text x="929.50" y="259.10" textLength="41.20" lengthAdjust="spacingAndGlyphs" fill="#131722" stroke="#131722">3370.00</text>
<text x="929.50" y="291.10" textLength="41.20" lengthAdjust="spacingAndGlyphs" fill="#131722" stroke="#131722">3365.00</text>
<g clip-path="url(#ca)"><text x="928.80" y="317.10" textLength="23.20" lengthAdjust="spacingAndGlyphs" fill="#131722" stroke="#131722">4.00</text></g>
<text x="929.40" y="405.00" textLength="28.80" lengthAdjust="spacingAndGlyphs" fill="#131722" stroke="#131722">−4.00</text>
<text x="928.80" y="448.50" textLength="29.40" lengthAdjust="spacingAndGlyphs" fill="#131722" stroke="#131722">60.00</text>
<text x="928.80" y="489.50" textLength="29.40" lengthAdjust="spacingAndGlyphs" fill="#131722" stroke="#131722">40.00</text>
<rect x="933.5" y="9.5" width="35.2" height="17.4" rx="4" fill="#fff" stroke="#cdd0da"/>
<text x="937.30" y="22.30" textLength="27.80" lengthAdjust="spacingAndGlyphs" fill="#131722" stroke="#131722">USDT</text>
<path d="M858.5,60 h59.5 v17 h-59.5 a2.5,2.5 0 0 1 -2.5,-2.5 v-12 a2.5,2.5 0 0 1 2.5,-2.5z" fill="#2962ff"/><path d="M919.1,60 h56.5 a2.5,2.5 0 0 1 2.5,2.5 v12 a2.5,2.5 0 0 1 -2.5,2.5 h-56.5 z" fill="#2962ff"/><rect x="917.7" y="60" width="1.4" height="17" fill="#fff"/><text x="861.70" y="73.00" textLength="49.40" lengthAdjust="spacingAndGlyphs" fill="#fff" stroke="#fff">BB:Upper</text><text x="929.50" y="73.00" textLength="41.20" lengthAdjust="spacingAndGlyphs" fill="#fff" stroke="#fff">3399.24</text>
<path d="M919.1,106.2 h56.5 a2.5,2.5 0 0 1 2.5,2.5 v25.6 a2.5,2.5 0 0 1 -2.5,2.5 h-56.5z" fill="#26a69a"/>
<text x="929.50" y="119.00" textLength="41.20" lengthAdjust="spacingAndGlyphs" fill="#fff" stroke="#fff">3391.99</text>
<text x="929.50" y="133.00" textLength="28.60" lengthAdjust="spacingAndGlyphs" fill="#fff" stroke="#fff" fill-opacity="0.8">04:26</text>
<path d="M864.7,137 h53.3 v17 h-53.3 a2.5,2.5 0 0 1 -2.5,-2.5 v-12 a2.5,2.5 0 0 1 2.5,-2.5z" fill="#ff6d00"/><path d="M919.1,137 h56.5 a2.5,2.5 0 0 1 2.5,2.5 v12 a2.5,2.5 0 0 1 -2.5,2.5 h-56.5 z" fill="#ff6d00"/><rect x="917.7" y="137" width="1.4" height="17" fill="#fff"/><text x="868.00" y="150.00" textLength="43.60" lengthAdjust="spacingAndGlyphs" fill="#fff" stroke="#fff">BB:Basis</text><text x="929.50" y="150.00" textLength="41.20" lengthAdjust="spacingAndGlyphs" fill="#fff" stroke="#fff">3391.35</text>
<path d="M858.5,161 h59.5 v17 h-59.5 a2.5,2.5 0 0 1 -2.5,-2.5 v-12 a2.5,2.5 0 0 1 2.5,-2.5z" fill="#2962ff"/><path d="M919.1,161 h56.5 a2.5,2.5 0 0 1 2.5,2.5 v12 a2.5,2.5 0 0 1 -2.5,2.5 h-56.5 z" fill="#2962ff"/><rect x="917.7" y="161" width="1.4" height="17" fill="#fff"/><text x="861.30" y="174.00" textLength="50.10" lengthAdjust="spacingAndGlyphs" fill="#fff" stroke="#fff">BB:Lower</text><text x="929.50" y="174.00" textLength="41.20" lengthAdjust="spacingAndGlyphs" fill="#fff" stroke="#fff">3383.45</text>
<path d="M877.5,320 h40.5 v17 h-40.5 a2.5,2.5 0 0 1 -2.5,-2.5 v-12 a2.5,2.5 0 0 1 2.5,-2.5z" fill="#ff6d00"/><path d="M919.1,320 h37.4 a2.5,2.5 0 0 1 2.5,2.5 v12 a2.5,2.5 0 0 1 -2.5,2.5 h-37.4 z" fill="#ff6d00"/><rect x="917.7" y="320" width="1.4" height="17" fill="#fff"/><text x="880.40" y="332.00" textLength="31.70" lengthAdjust="spacingAndGlyphs" fill="#fff" stroke="#fff">Signal</text><text x="928.80" y="332.00" textLength="23.20" lengthAdjust="spacingAndGlyphs" fill="#fff" stroke="#fff">0.40</text>
<path d="M878.7,337 h39.3 v17 h-39.3 a2.5,2.5 0 0 1 -2.5,-2.5 v-12 a2.5,2.5 0 0 1 2.5,-2.5z" fill="#2962ff"/><path d="M919.1,337 h43.7 a2.5,2.5 0 0 1 2.5,2.5 v12 a2.5,2.5 0 0 1 -2.5,2.5 h-43.7 z" fill="#2962ff"/><rect x="917.7" y="337" width="1.4" height="17" fill="#fff"/><text x="881.30" y="349.00" textLength="30.70" lengthAdjust="spacingAndGlyphs" fill="#fff" stroke="#fff">MACD</text><text x="929.40" y="349.00" textLength="28.80" lengthAdjust="spacingAndGlyphs" fill="#fff" stroke="#fff">−0.04</text>
<path d="M854.9,354 h63.1 v17 h-63.1 a2.5,2.5 0 0 1 -2.5,-2.5 v-12 a2.5,2.5 0 0 1 2.5,-2.5z" fill="#ffcdd2"/><path d="M919.1,354 h43.7 a2.5,2.5 0 0 1 2.5,2.5 v12 a2.5,2.5 0 0 1 -2.5,2.5 h-43.7 z" fill="#ffcdd2"/><rect x="917.7" y="354" width="1.4" height="17" fill="#fff"/><text x="857.80" y="366.00" textLength="54.00" lengthAdjust="spacingAndGlyphs" fill="#131722" stroke="#131722">Histogram</text><text x="929.40" y="366.00" textLength="28.80" lengthAdjust="spacingAndGlyphs" fill="#131722" stroke="#131722">−0.45</text>
<path d="M892.5,451 h25.5 v17 h-25.5 a2.5,2.5 0 0 1 -2.5,-2.5 v-12 a2.5,2.5 0 0 1 2.5,-2.5z" fill="#7e57c2"/><path d="M919.1,451 h43.7 a2.5,2.5 0 0 1 2.5,2.5 v12 a2.5,2.5 0 0 1 -2.5,2.5 h-43.7 z" fill="#7e57c2"/><rect x="917.7" y="451" width="1.4" height="17" fill="#fff"/><text x="896.20" y="463.00" textLength="15.50" lengthAdjust="spacingAndGlyphs" fill="#fff" stroke="#fff">RSI</text><text x="928.80" y="463.00" textLength="29.40" lengthAdjust="spacingAndGlyphs" fill="#fff" stroke="#fff">52.71</text>
<text x="18.30" y="22.00" textLength="50.90" lengthAdjust="spacingAndGlyphs" fill="#131722" stroke="#131722">Ethereum</text>
<text x="75.60" y="22.00" fill="#131722" stroke="#131722">/</text>
<text x="84.40" y="22.00" textLength="52.70" lengthAdjust="spacingAndGlyphs" fill="#131722" stroke="#131722">TetherUS,</text>
<text x="141.70" y="22.00" textLength="9.10" lengthAdjust="spacingAndGlyphs" fill="#131722" stroke="#131722">5,</text>
<text x="156.00" y="22.00" textLength="45.20" lengthAdjust="spacingAndGlyphs" fill="#131722" stroke="#131722">BINANCE</text>
<text x="208.80" y="22.00" textLength="7.90" lengthAdjust="spacingAndGlyphs" fill="#131722" stroke="#131722">O</text>
<text x="217.30" y="22.00" textLength="41.60" lengthAdjust="spacingAndGlyphs" fill="#26a69a" stroke="#26a69a">3389.75</text>
<text x="266.90" y="22.00" textLength="7.10" lengthAdjust="spacingAndGlyphs" fill="#131722" stroke="#131722">H</text>
<text x="274.80" y="22.00" textLength="41.60" lengthAdjust="spacingAndGlyphs" fill="#26a69a" stroke="#26a69a">3391.99</text>
<text x="324.20" y="22.00" textLength="5.30" lengthAdjust="spacingAndGlyphs" fill="#131722" stroke="#131722">L</text>
<text x="330.50" y="22.00" textLength="41.10" lengthAdjust="spacingAndGlyphs" fill="#26a69a" stroke="#26a69a">3388.22</text>
<text x="379.80" y="22.00" textLength="6.70" lengthAdjust="spacingAndGlyphs" fill="#131722" stroke="#131722">C</text>
<text x="387.20" y="22.00" textLength="41.10" lengthAdjust="spacingAndGlyphs" fill="#26a69a" stroke="#26a69a">3391.99</text>
<text x="436.10" y="22.00" textLength="29.10" lengthAdjust="spacingAndGlyphs" fill="#26a69a" stroke="#26a69a">+2.23</text>
<text x="469.30" y="22.00" textLength="45.40" lengthAdjust="spacingAndGlyphs" fill="#26a69a" stroke="#26a69a">(+0.07%)</text>
<text x="18.30" y="38.70" textLength="12.50" lengthAdjust="spacingAndGlyphs" fill="#131722" stroke="#131722">BB</text>
<text x="39.30" y="38.70" textLength="41.60" lengthAdjust="spacingAndGlyphs" fill="#ff6d00" stroke="#ff6d00">3391.35</text>
<text x="88.60" y="38.70" textLength="41.60" lengthAdjust="spacingAndGlyphs" fill="#2962ff" stroke="#2962ff">3399.24</text>
<text x="137.80" y="38.70" textLength="41.90" lengthAdjust="spacingAndGlyphs" fill="#2962ff" stroke="#2962ff">3383.45</text>
<text x="18.00" y="332.00" textLength="29.80" lengthAdjust="spacingAndGlyphs" fill="#131722" stroke="#131722">MACD</text>
<text x="55.70" y="332.00" textLength="28.90" lengthAdjust="spacingAndGlyphs" fill="#ffcdd2" stroke="#ffcdd2">−0.45</text>
<text x="93.00" y="332.00" textLength="28.90" lengthAdjust="spacingAndGlyphs" fill="#2962ff" stroke="#2962ff">−0.04</text>
<text x="129.00" y="332.00" textLength="23.00" lengthAdjust="spacingAndGlyphs" fill="#ff6d00" stroke="#ff6d00">0.40</text>
<text x="18.00" y="432.60" textLength="15.40" lengthAdjust="spacingAndGlyphs" fill="#131722" stroke="#131722">RSI</text>
<text x="41.20" y="432.60" textLength="28.60" lengthAdjust="spacingAndGlyphs" fill="#7e57c2" stroke="#7e57c2">52.71</text>
<text x="14.15" y="532.60" textLength="32.70" lengthAdjust="spacingAndGlyphs" fill="#131722" stroke="#131722" font-weight="bold">04:00</text>
<text x="112.65" y="532.60" textLength="29.70" lengthAdjust="spacingAndGlyphs" fill="#131722" stroke="#131722">04:30</text>
<text x="206.15" y="532.60" textLength="32.70" lengthAdjust="spacingAndGlyphs" fill="#131722" stroke="#131722" font-weight="bold">05:00</text>
<text x="303.65" y="532.60" textLength="29.70" lengthAdjust="spacingAndGlyphs" fill="#131722" stroke="#131722">05:30</text>
<text x="397.15" y="532.60" textLength="32.70" lengthAdjust="spacingAndGlyphs" fill="#131722" stroke="#131722" font-weight="bold">06:00</text>
<text x="495.65" y="532.60" textLength="29.70" lengthAdjust="spacingAndGlyphs" fill="#131722" stroke="#131722">06:30</text>
<text x="589.15" y="532.60" textLength="32.70" lengthAdjust="spacingAndGlyphs" fill="#131722" stroke="#131722" font-weight="bold">07:00</text>
<text x="686.65" y="532.60" textLength="29.70" lengthAdjust="spacingAndGlyphs" fill="#131722" stroke="#131722">07:30</text>
<text x="780.15" y="532.60" textLength="32.70" lengthAdjust="spacingAndGlyphs" fill="#131722" stroke="#131722" font-weight="bold">08:00</text>
<text x="878.65" y="532.60" textLength="29.70" lengthAdjust="spacingAndGlyphs" fill="#131722" stroke="#131722">08:30</text>
<g fill="#131722"><path d="M10,555 h7.9 v9.7 h-3.85 v-6 h-4.05z"/><circle cx="21" cy="557.05" r="1.8"/><path d="M25.35,555 L29.4,555 L25.75,564.7 L21.25,564.7z"/></g>
<text x="32.90" y="564.70" textLength="72.00" lengthAdjust="spacingAndGlyphs" fill="#131722" stroke="#131722" font-size="13.8" stroke-width="0">TradingView</text>
</svg>
</body></html>
